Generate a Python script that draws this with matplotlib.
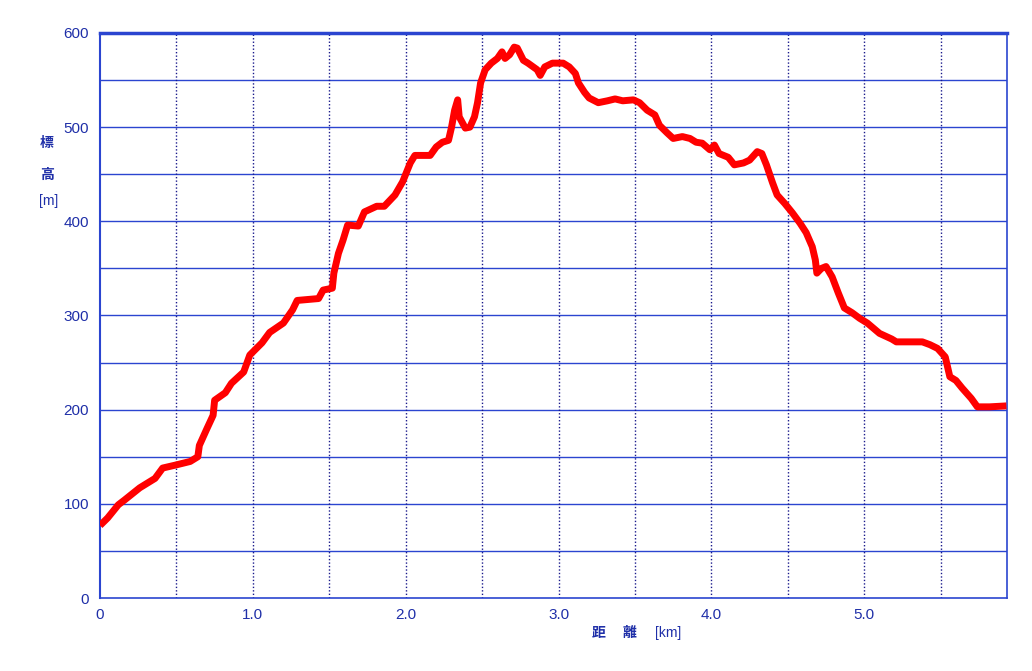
import matplotlib
matplotlib.use("Agg")
import matplotlib.pyplot as plt
import numpy as np

# distance [km] and elevation [m]
dist_km = [0.00, 0.05, 0.12, 0.16, 0.26, 0.36, 0.41, 0.49, 0.59, 0.64, 0.65, 0.70,
           0.74, 0.75, 0.82, 0.86, 0.94, 0.98, 1.06, 1.11, 1.20, 1.26, 1.29, 1.43,
           1.46, 1.52, 1.53, 1.56, 1.59, 1.62, 1.69, 1.73, 1.81, 1.86, 1.93, 1.98,
           2.03, 2.06, 2.16, 2.20, 2.24, 2.28, 2.30, 2.32, 2.34, 2.35, 2.39, 2.42,
           2.45, 2.47, 2.49, 2.52, 2.56, 2.60, 2.63, 2.65, 2.68, 2.71, 2.73, 2.77,
           2.80, 2.86, 2.88, 2.91, 2.96, 3.03, 3.07, 3.11, 3.13, 3.17, 3.20, 3.26,
           3.32, 3.37, 3.42, 3.49, 3.53, 3.58, 3.63, 3.66, 3.71, 3.75, 3.81, 3.86,
           3.90, 3.94, 3.99, 4.02, 4.05, 4.11, 4.15, 4.21, 4.25, 4.30, 4.33, 4.36,
           4.40, 4.43, 4.48, 4.53, 4.58, 4.62, 4.66, 4.68, 4.69, 4.72, 4.75, 4.79,
           4.83, 4.87, 4.92, 4.97, 5.02, 5.10, 5.18, 5.21, 5.38, 5.43, 5.48, 5.53,
           5.56, 5.60, 5.64, 5.70, 5.74, 5.82, 5.93]
elev_m = [77, 85, 99, 104, 117, 127, 138, 141, 145, 150, 162, 180,
          194, 210, 218, 228, 240, 258, 271, 282, 292, 306, 316, 318,
          327, 329, 345, 366, 380, 396, 395, 410, 416, 416, 428, 442,
          462, 470, 470, 479, 484, 486, 500, 518, 529, 511, 499, 500,
          511, 526, 547, 561, 568, 573, 580, 573, 577, 585, 584, 571,
          568, 561, 555, 564, 568, 568, 564, 557, 547, 537, 531, 526,
          528, 530, 528, 529, 526, 518, 513, 502, 494, 488, 490, 488,
          484, 483, 476, 481, 472, 468, 460, 462, 465, 474, 472, 460,
          441, 428, 419, 409, 398, 388, 373, 359, 345, 350, 352, 341,
          324, 308, 303, 297, 292, 281, 275, 272, 272, 269, 265, 256,
          235, 231, 223, 212, 203, 203, 204]

x_ticks = [0, 1, 2, 3, 4, 5]
x_tick_labels = ["0", "1.0", "2.0", "3.0", "4.0", "5.0"]
y_ticks = [0, 100, 200, 300, 400, 500, 600]

BLUE = "#2b45d0"
NAVY = "#1a1a8c"
LABEL = "#1f2fa8"

fig = plt.figure(figsize=(10.32, 6.71), dpi=100)
fig.patch.set_facecolor("white")
ax = fig.add_axes([100 / 1032, 73 / 671, 907 / 1032, 565 / 671])

# grid: solid horizontal every 50 m, dotted vertical every 0.5 km
for y in np.arange(50, 600, 50):
    ax.axhline(y, color=BLUE, lw=1.0, zorder=1)
for x in np.arange(0.5, 5.93, 0.5):
    ax.axvline(x, color=NAVY, lw=1.0, ls=(0, (1, 1.5)), zorder=1)

ax.plot(dist_km, elev_m, color="#ff0000", lw=5, solid_joinstyle="round",
        solid_capstyle="butt", zorder=3)

ax.set_xlim(0, 5.934)
ax.set_ylim(0, 600)

for side in ["top", "right", "bottom"]:
    ax.spines[side].set_color(BLUE)
ax.spines["top"].set_linewidth(2.5)
ax.spines["right"].set_linewidth(1.2)
ax.spines["bottom"].set_linewidth(1.2)
ax.spines["left"].set_color(BLUE)
ax.spines["left"].set_linewidth(1.5)
ax.spines["left"].set_linestyle((0, (1, 1)))

ax.set_xticks(x_ticks)
ax.set_xticklabels(x_tick_labels)
ax.set_yticks(y_ticks)
ax.tick_params(length=0, colors=LABEL, labelsize=11, pad=7)
for lab in ax.get_xticklabels() + ax.get_yticklabels():
    lab.set_family(["Liberation Sans", "DejaVu Sans"])
ax.tick_params(axis="y", pad=8)
ax.tick_params(axis="x", pad=7)

cjk = ["Noto Sans CJK JP", "DejaVu Sans"]
fig.text(47 / 1032, 1 - 143 / 671, "標", color=LABEL, fontsize=10, fontweight="bold",
         family=cjk, ha="center", va="center")
fig.text(47 / 1032, 1 - 175 / 671, "高", color=LABEL, fontsize=10, fontweight="bold",
         family=cjk, ha="center", va="center")
fig.text(49 / 1032, 1 - 201 / 671, "[m]", color=LABEL, fontsize=10,
         family=["Liberation Sans", "DejaVu Sans"], ha="center", va="center")
fig.text(599 / 1032, 1 - 633 / 671, "距", color=LABEL, fontsize=10, fontweight="bold",
         family=cjk, ha="center", va="center")
fig.text(630 / 1032, 1 - 633 / 671, "離", color=LABEL, fontsize=10, fontweight="bold",
         family=cjk, ha="center", va="center")
fig.text(668 / 1032, 1 - 633 / 671, "[km]", color=LABEL, fontsize=10,
         family=["Liberation Sans", "DejaVu Sans"], ha="center", va="center")

fig.savefig("out.png", dpi=100, facecolor="white")
